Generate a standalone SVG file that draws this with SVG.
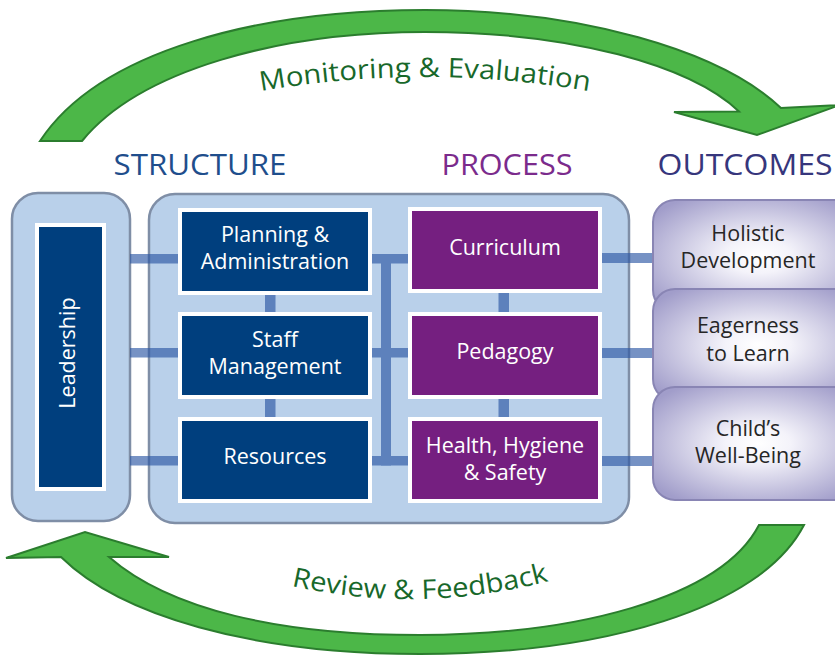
<svg xmlns="http://www.w3.org/2000/svg" width="835" height="655" viewBox="0 0 835 655">
<style>
.cont{fill:#b9d0ea;stroke:#7f8ea6;stroke-width:2.5}
.nv{fill:#003f7e;stroke:#ffffff;stroke-width:4}
.pu{fill:#751f80;stroke:#ffffff;stroke-width:4}
.bt{font-family:"Open Sans","Noto Sans",sans-serif;font-size:21.5px;fill:#ffffff;text-anchor:middle}
.ot{font-family:"Open Sans","Noto Sans",sans-serif;font-size:21.5px;fill:#262626;text-anchor:middle}
.oc{fill:url(#og);stroke:#8985b4;stroke-width:2}
.hd{font-family:"Open Sans","Noto Sans",sans-serif;font-size:30px;text-anchor:middle}
.arr{fill:#4cb748;stroke:#2b7d2e;stroke-width:2;stroke-linejoin:miter}
.at{font-family:"Open Sans","Noto Sans",sans-serif;font-size:27px;fill:#18682a}
</style>
<defs>
<radialGradient id="og" cx="50%" cy="50%" r="62%">
<stop offset="0" stop-color="#ffffff"/>
<stop offset="0.25" stop-color="#f4f3fa"/>
<stop offset="1" stop-color="#a19dca"/>
</radialGradient>
<path id="tp1" d="M 230,97 Q 425,57 620,97"/>
<path id="tp2" d="M 260,578 Q 420,623 580,572"/>
</defs>

<g id="arrow-monitoring">
<path class="arr" d="M 40,141 C 100,50 260,10 425,10 C 580,10 720,50 781,108 L 840,105 L 757,135 L 674,112 L 739,111.5 C 690,65 570,32 425,32 C 280,32 140,70 82,141 Z"/>
<text class="at"><textPath href="#tp1" startOffset="50%" text-anchor="middle" textLength="330" lengthAdjust="spacingAndGlyphs">Monitoring &amp; Evaluation</textPath></text>
</g>
<g id="arrow-review">
<path class="arr" d="M 804,525 C 760,610 600,654 420,654 C 250,654 120,615 61,557 L 6,558 L 85,532 L 169,557 L 109,557 C 170,610 280,635 420,635 C 570,635 720,600 759,525 Z"/>
<text class="at"><textPath href="#tp2" startOffset="50%" text-anchor="middle" textLength="260" lengthAdjust="spacingAndGlyphs">Review &amp; Feedback</textPath></text>
</g>

<g id="headers">
<text class="hd" x="200" y="175" fill="#1f4e8c" textLength="173" lengthAdjust="spacingAndGlyphs">STRUCTURE</text>
<text class="hd" x="507" y="175" fill="#7b2b8c" textLength="131" lengthAdjust="spacingAndGlyphs">PROCESS</text>
<text class="hd" x="745" y="175" fill="#36367c" textLength="175" lengthAdjust="spacingAndGlyphs">OUTCOMES</text>
</g>

<g id="leadership-container"><rect class="cont" x="12" y="193" width="118" height="328" rx="26"/></g>
<g id="main-container"><rect class="cont" x="149" y="194" width="480" height="329" rx="26"/></g>

<g id="connectors" opacity="0.65" fill="#2d58a5">
<rect x="130" y="254" width="50" height="9.5"/>
<rect x="130" y="348" width="50" height="9.5"/>
<rect x="130" y="456" width="50" height="9.5"/>
<rect x="265" y="294" width="10.5" height="20"/>
<rect x="265" y="398" width="10.5" height="20"/>
<rect x="370" y="254" width="40" height="9.5"/>
<rect x="370" y="348" width="40" height="9.5"/>
<rect x="370" y="456" width="40" height="9.5"/>
<rect x="381" y="254" width="10" height="211.5"/>
<rect x="498.5" y="292" width="10.5" height="22"/>
<rect x="498.5" y="398" width="10.5" height="22"/>
<rect x="600" y="253" width="57" height="10"/>
<rect x="600" y="348" width="57" height="10"/>
<rect x="600" y="456" width="57" height="10"/>
</g>

<g id="leadership">
<rect class="nv" x="37" y="225" width="67" height="264"/>
<text class="bt" transform="translate(75,353) rotate(-90)" font-size="22">Leadership</text>
</g>
<g id="planning">
<rect class="nv" x="180" y="210" width="190" height="83"/>
<text class="bt" x="275" y="241.5">Planning &amp;</text>
<text class="bt" x="275" y="268.5">Administration</text>
</g>
<g id="staff">
<rect class="nv" x="180" y="314" width="190" height="83"/>
<text class="bt" x="275" y="346.5">Staff</text>
<text class="bt" x="275" y="373.5">Management</text>
</g>
<g id="resources">
<rect class="nv" x="180" y="419" width="190" height="82"/>
<text class="bt" x="275" y="464">Resources</text>
</g>
<g id="curriculum">
<rect class="pu" x="410" y="209" width="190" height="82"/>
<text class="bt" x="505" y="255">Curriculum</text>
</g>
<g id="pedagogy">
<rect class="pu" x="410" y="314" width="190" height="83"/>
<text class="bt" x="505" y="358.5">Pedagogy</text>
</g>
<g id="health">
<rect class="pu" x="410" y="419" width="190" height="82"/>
<text class="bt" x="505" y="452.5">Health, Hygiene</text>
<text class="bt" x="505" y="480">&amp; Safety</text>
</g>

<g id="holistic">
<rect class="oc" x="653" y="200" width="210" height="112" rx="22"/>
<text class="ot" x="748" y="240.5">Holistic</text>
<text class="ot" x="748" y="268">Development</text>
</g>
<g id="eagerness">
<rect class="oc" x="653" y="289" width="210" height="112" rx="22"/>
<text class="ot" x="748" y="333">Eagerness</text>
<text class="ot" x="748" y="360.5">to Learn</text>
</g>
<g id="wellbeing">
<rect class="oc" x="653" y="387" width="210" height="113" rx="22"/>
<text class="ot" x="748" y="435.5">Child’s</text>
<text class="ot" x="748" y="463">Well-Being</text>
</g>
</svg>
